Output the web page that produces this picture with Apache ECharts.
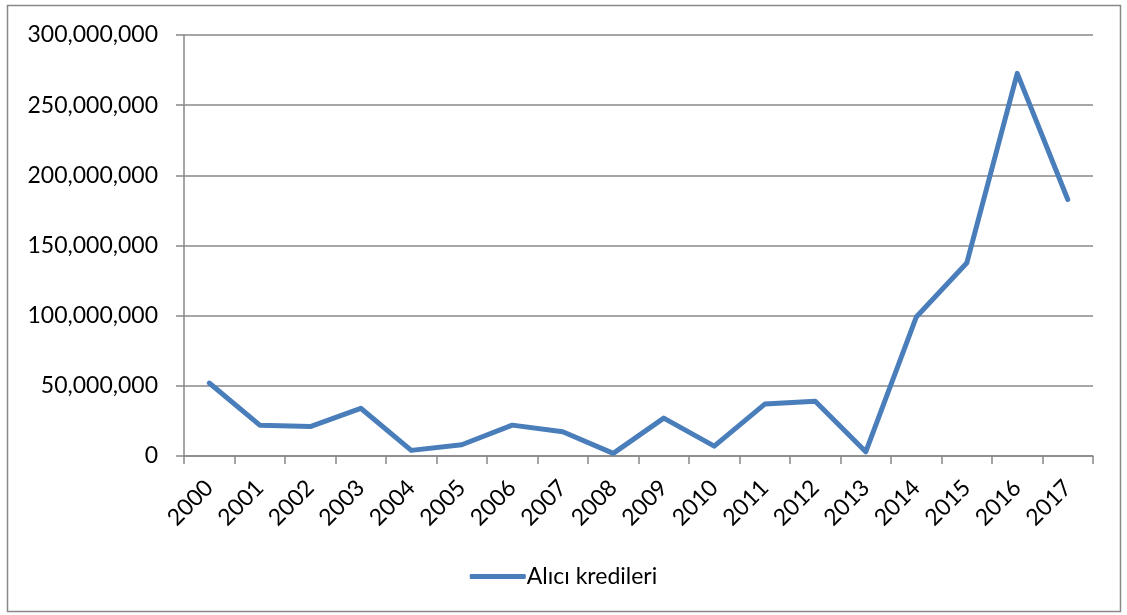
<!DOCTYPE html>
<html>
<head>
<meta charset="utf-8">
<script src="https://cdn.jsdelivr.net/npm/echarts@6/dist/echarts.min.js"></script>
<style>
    html, body { margin: 0; padding: 0; background: #fff; }
    #chart { width: 1127px; height: 615px; }
</style>
</head>
<body>
<div id="chart"></div>
<script>
// yıllar ve alıcı kredileri
let years = ['2000', '2001', '2002', '2003', '2004', '2005', '2006', '2007', '2008',
    '2009', '2010', '2011', '2012', '2013', '2014', '2015', '2016', '2017'];
let aliciKredileri = [52000000, 22000000, 21000000, 34000000, 4000000, 8000000, 22000000, 17300000, 1900000,
    27000000, 7000000, 37000000, 39000000, 3000000, 99000000, 137500000, 272700000, 182800000];
let seriesName = 'Alıcı kredileri';

let gridColor = '#888888';
let lineColor = '#4a7ebb';
let fontFam = 'Lato, "Open Sans", sans-serif';
let fs = 23;

let chart = echarts.init(document.getElementById('chart'));
let option = {
    animation: false,
    backgroundColor: '#fff',
    textStyle: { fontFamily: fontFam },
    graphic: [{
        type: 'rect',
        shape: { x: 7.5, y: 5.5, width: 1113, height: 606 },
        style: { fill: 'none', stroke: gridColor, lineWidth: 1.5 }
    }],
    grid: {
        left: 184,
        right: 34,
        top: 35,
        bottom: 159
    },
    legend: {
        bottom: 22,
        left: 'center',
        icon: 'roundRect',
        itemWidth: 56,
        itemHeight: 5,
        itemGap: 10,
        textStyle: { color: '#000', fontSize: fs, fontFamily: fontFam, padding: [0, 0, 0, -4] },
        data: [seriesName]
    },
    xAxis: {
        type: 'category',
        data: years,
        boundaryGap: true,
        axisLine: { show: true, lineStyle: { color: gridColor, width: 1.5 } },
        axisTick: { show: true, length: 8, alignWithLabel: false, lineStyle: { color: gridColor, width: 1.5 } },
        axisLabel: {
            rotate: 45,
            interval: 0,
            margin: 28,
            color: '#000',
            fontSize: fs,
            fontFamily: fontFam
        },
        splitLine: { show: false }
    },
    yAxis: {
        type: 'value',
        min: 0,
        max: 300000000,
        interval: 50000000,
        axisLine: { show: true, lineStyle: { color: gridColor, width: 1.5 } },
        axisTick: { show: true, length: 8, lineStyle: { color: gridColor, width: 1.5 } },
        axisLabel: {
            margin: 26,
            color: '#000',
            fontSize: fs,
            fontFamily: fontFam,
            formatter: function (v) {
                return v.toString().replace(/\B(?=(\d{3})+(?!\d))/g, ',');
            }
        },
        splitLine: { show: true, lineStyle: { color: gridColor, width: 1.5 } }
    },
    series: [{
        name: seriesName,
        type: 'line',
        data: aliciKredileri,
        symbol: 'none',
        showSymbol: false,
        lineStyle: { color: lineColor, width: 5, cap: 'round', join: 'round' },
        itemStyle: { color: lineColor }
    }]
};
chart.setOption(option);
</script>
</body>
</html>
